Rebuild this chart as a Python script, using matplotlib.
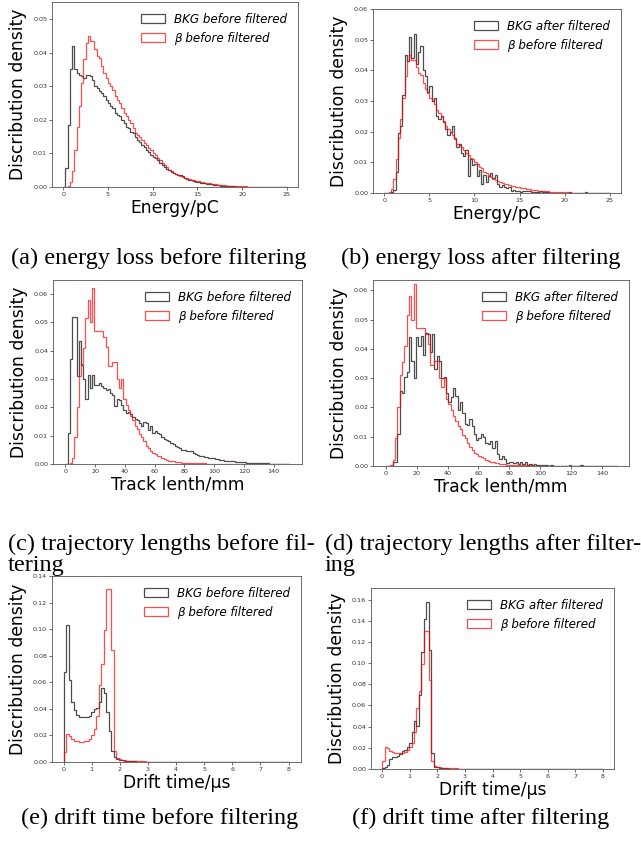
import numpy as np
import matplotlib
matplotlib.use('Agg')
import matplotlib.pyplot as plt

# ---- data: histogram densities ----

# energy loss, 100 bins over 0-25 pC
energy_edges = np.linspace(0, 25, 101)
beta_energy = [
    0.0, 0.0, 0.0003, 0.0014, 0.0047, 0.011, 0.018, 0.024, 0.031, 0.038,
    0.043, 0.045, 0.0435, 0.0435, 0.041, 0.039, 0.0385, 0.036, 0.034, 0.0325,
    0.031, 0.030, 0.029, 0.027, 0.026, 0.025, 0.0235, 0.022, 0.021, 0.020,
    0.019, 0.0175, 0.016, 0.0155, 0.015, 0.014, 0.013, 0.0125, 0.0115, 0.011,
    0.010, 0.0095, 0.0085, 0.008, 0.007, 0.0065, 0.006, 0.0052, 0.0047, 0.0042,
    0.004, 0.0037, 0.0033, 0.003, 0.0028, 0.0026, 0.0024, 0.0022, 0.002, 0.0019,
    0.0017, 0.0016, 0.0015, 0.0013, 0.0012, 0.0011, 0.001, 0.0009, 0.0008, 0.0007,
    0.0006, 0.0006, 0.0005, 0.0004, 0.0004, 0.0003, 0.0003, 0.0003, 0.0002, 0.0002,
    0.0002, 0.0002, 0.0001, 0.0001, 0.0001, 0.0001, 0.0001, 0.0001, 0.0001, 0.0001,
    0.0001, 0.0001, 0.0001, 0.0001, 0.0001, 0.0001, 0.0001, 0.0001, 0.0001, 0.0001]
bkg_energy_before = [
    0.0, 0.0056, 0.0185, 0.035, 0.042, 0.035, 0.034, 0.0335, 0.033, 0.0325,
    0.0335, 0.0335, 0.033, 0.032, 0.030, 0.0295, 0.0285, 0.028, 0.027, 0.026,
    0.025, 0.024, 0.0235, 0.022, 0.0215, 0.021, 0.020, 0.019, 0.018, 0.0175,
    0.0165, 0.016, 0.015, 0.014, 0.0135, 0.0125, 0.012, 0.011, 0.0105, 0.0095,
    0.009, 0.0085, 0.008, 0.0072, 0.0065, 0.006, 0.0055, 0.005, 0.0045, 0.0042,
    0.004, 0.0037, 0.0035, 0.0032, 0.0028, 0.0025, 0.0022, 0.002, 0.0018, 0.0016,
    0.0015, 0.0013, 0.0012, 0.0011, 0.001, 0.0009, 0.0008, 0.0007, 0.0006, 0.0005,
    0.0004, 0.0004, 0.0003, 0.0003, 0.0002, 0.0002, 0.0002, 0.0001, 0.0001, 0.0001,
    0.0001, 0.0001, 0.0001, 0.0001, 0.0001, 0.0, 0.0, 0.0, 0.0, 0.0,
    0.0, 0.0, 0.0, 0.0, 0.0, 0.0, 0.0, 0.0, 0.0, 0.0]
bkg_energy_after = [
    0.0, 0.0, 0.0, 0.0003, 0.001, 0.007, 0.0196, 0.022, 0.032, 0.045,
    0.043, 0.051, 0.044, 0.052, 0.042, 0.046, 0.048, 0.040, 0.038, 0.033,
    0.035, 0.030, 0.031, 0.025, 0.024, 0.025, 0.023, 0.021, 0.019, 0.020,
    0.022, 0.018, 0.015, 0.016, 0.013, 0.012, 0.014, 0.0055, 0.011, 0.009,
    0.0095, 0.0055, 0.0075, 0.003, 0.006, 0.0035, 0.0055, 0.0065, 0.005, 0.006,
    0.003, 0.002, 0.0025, 0.002, 0.0015, 0.002, 0.0005, 0.001, 0.0005, 0.0007,
    0.0004, 0.0007, 0.0008, 0.0005, 0.0007, 0.0004, 0.0003, 0.0003, 0.0002, 0.0005,
    0.0003, 0.0003, 0.0002, 0.0, 0.0, 0.0, 0.0, 0.0, 0.0, 0.0,
    0.0, 0.0, 0.0003, 0.0, 0.0, 0.0, 0.0, 0.0, 0.0, 0.0003,
    0.0, 0.0, 0.0, 0.0, 0.0, 0.0, 0.0, 0.0, 0.0, 0.0]

# track length, 100 bins over 0-150 mm
track_edges = np.linspace(0, 150, 101)
beta_track = [
    0.0, 0.0, 0.0003, 0.002, 0.0097, 0.020, 0.031, 0.0355, 0.041, 0.0515,
    0.058, 0.050, 0.062, 0.047, 0.047, 0.047, 0.047, 0.045, 0.0415, 0.0345,
    0.0345, 0.036, 0.036, 0.030, 0.027, 0.030, 0.023, 0.021, 0.019, 0.017,
    0.0155, 0.0135, 0.0125, 0.0105, 0.0095, 0.008, 0.0065, 0.0055, 0.0045, 0.004,
    0.0035, 0.003, 0.0027, 0.0022, 0.0018, 0.0015, 0.0012, 0.0011, 0.001, 0.0008,
    0.0007, 0.0006, 0.0005, 0.0005, 0.0004, 0.0004, 0.0003, 0.0003, 0.0003, 0.0002,
    0.0002, 0.0002, 0.0002, 0.0001, 0.0001, 0.0001, 0.0001, 0.0001, 0.0001, 0.0001,
    0.0, 0.0, 0.0, 0.0, 0.0, 0.0, 0.0, 0.0, 0.0, 0.0,
    0.0, 0.0, 0.0, 0.0, 0.0, 0.0, 0.0, 0.0, 0.0, 0.0,
    0.0, 0.0, 0.0, 0.0, 0.0, 0.0, 0.0, 0.0, 0.0, 0.0]
bkg_track_before = [
    0.0, 0.011, 0.037, 0.052, 0.052, 0.031, 0.0435, 0.035, 0.030, 0.023,
    0.0315, 0.027, 0.0315, 0.028, 0.028, 0.0285, 0.0275, 0.027, 0.026, 0.0265,
    0.025, 0.0245, 0.0205, 0.023, 0.0225, 0.021, 0.019, 0.018, 0.0185, 0.0175,
    0.0165, 0.016, 0.0155, 0.0145, 0.0135, 0.015, 0.0145, 0.012, 0.0135, 0.011,
    0.0115, 0.011, 0.0105, 0.0095, 0.009, 0.0085, 0.008, 0.0075, 0.007, 0.0065,
    0.006, 0.0055, 0.005, 0.005, 0.0045, 0.0045, 0.0045, 0.004, 0.0035, 0.0033,
    0.003, 0.0028, 0.0026, 0.0024, 0.0022, 0.002, 0.002, 0.0018, 0.0016, 0.0015,
    0.0013, 0.0012, 0.0011, 0.001, 0.001, 0.0009, 0.0008, 0.0008, 0.0007, 0.0006,
    0.0006, 0.0005, 0.0005, 0.0004, 0.0004, 0.0003, 0.0003, 0.0003, 0.0002, 0.0002,
    0.0002, 0.0001, 0.0001, 0.0001, 0.0001, 0.0001, 0.0001, 0.0, 0.0, 0.0]
bkg_track_after = [
    0.0, 0.0, 0.0, 0.0015, 0.0015, 0.011, 0.0255, 0.025, 0.0305, 0.032,
    0.044, 0.036, 0.030, 0.044, 0.041, 0.0445, 0.038, 0.0455, 0.045, 0.039,
    0.045, 0.033, 0.0375, 0.036, 0.030, 0.0305, 0.025, 0.022, 0.0235, 0.0265,
    0.024, 0.019, 0.022, 0.018, 0.0145, 0.014, 0.016, 0.0135, 0.011, 0.009,
    0.0095, 0.011, 0.010, 0.008, 0.0075, 0.0085, 0.006, 0.0085, 0.004, 0.0025,
    0.0035, 0.0025, 0.001, 0.0012, 0.0015, 0.001, 0.0012, 0.0008, 0.0012, 0.0008,
    0.0012, 0.0005, 0.0008, 0.0005, 0.0008, 0.0003, 0.0005, 0.0003, 0.0002, 0.0003,
    0.0001, 0.0005, 0.0, 0.0, 0.0, 0.0, 0.0, 0.0, 0.0, 0.0005,
    0.0, 0.0, 0.0, 0.0, 0.0005, 0.0, 0.0, 0.0, 0.0, 0.0,
    0.0, 0.0, 0.0, 0.0, 0.0, 0.0, 0.0, 0.0, 0.0, 0.0]

# drift time, 90 bins over 0-8 us
drift_edges = np.linspace(0, 8, 91)
beta_drift = [
    0.0075, 0.021, 0.0195, 0.017, 0.016, 0.0155, 0.015, 0.015, 0.0155, 0.016,
    0.0175, 0.0205, 0.025, 0.035, 0.058, 0.074, 0.0995, 0.13, 0.13, 0.0845,
    0.008, 0.003, 0.002, 0.0015, 0.0012, 0.001, 0.0008, 0.0007, 0.0006, 0.0005,
    0.0005, 0.0004, 0.0004, 0.0003, 0.0003, 0.0003, 0.0002, 0.0002, 0.0002, 0.0002,
    0.0002, 0.0002, 0.0002, 0.0002, 0.0002, 0.0002, 0.0002, 0.0002, 0.0002, 0.0002,
    0.0002, 0.0001, 0.0001, 0.0001, 0.0001, 0.0001, 0.0001, 0.0001, 0.0001, 0.0001,
    0.0001, 0.0001, 0.0001, 0.0001, 0.0001, 0.0001, 0.0001, 0.0001, 0.0001, 0.0001,
    0.0001, 0.0001, 0.0001, 0.0001, 0.0001, 0.0001, 0.0001, 0.0001, 0.0001, 0.0001,
    0.0001, 0.0001, 0.0001, 0.0001, 0.0001, 0.0001, 0.0001, 0.0001, 0.0001, 0.0001]
bkg_drift_before = [
    0.068, 0.103, 0.062, 0.0455, 0.039, 0.0355, 0.034, 0.0335, 0.0335, 0.0335,
    0.035, 0.0375, 0.040, 0.041, 0.045, 0.0555, 0.052, 0.038, 0.023, 0.008,
    0.0035, 0.002, 0.0015, 0.0012, 0.001, 0.0008, 0.0006, 0.0005, 0.0004, 0.0003,
    0.0003, 0.0002, 0.0002, 0.0002, 0.0001, 0.0001, 0.0001, 0.0001, 0.0001, 0.0001,
    0.0001, 0.0001, 0.0001, 0.0001, 0.0001, 0.0001, 0.0, 0.0, 0.0, 0.0,
    0.0, 0.0, 0.0, 0.0, 0.0, 0.0, 0.0, 0.0, 0.0, 0.0,
    0.0, 0.0, 0.0, 0.0, 0.0, 0.0, 0.0, 0.0, 0.0, 0.0,
    0.0, 0.0, 0.0, 0.0, 0.0, 0.0, 0.0, 0.0, 0.0, 0.0,
    0.0, 0.0, 0.0, 0.0, 0.0, 0.0, 0.0, 0.0, 0.0, 0.0]
bkg_drift_after = [
    0.0005, 0.002, 0.004, 0.009, 0.011, 0.0115, 0.012, 0.0145, 0.017, 0.018,
    0.021, 0.0245, 0.0345, 0.045, 0.041, 0.070, 0.111, 0.142, 0.158, 0.112,
    0.015, 0.002, 0.0015, 0.001, 0.001, 0.0005, 0.0005, 0.0003, 0.0, 0.0,
    0.0, 0.0, 0.0, 0.0, 0.0, 0.0, 0.0, 0.0, 0.0, 0.0,
    0.0, 0.0, 0.0, 0.0, 0.0, 0.0, 0.0, 0.0, 0.0, 0.0,
    0.0, 0.0, 0.0, 0.0, 0.0, 0.0, 0.0, 0.0, 0.0, 0.0,
    0.0, 0.0, 0.0, 0.0, 0.0, 0.0, 0.0, 0.0, 0.0, 0.0,
    0.0, 0.0, 0.0, 0.0, 0.0, 0.0, 0.0, 0.0, 0.0, 0.0,
    0.0, 0.0, 0.0, 0.0, 0.0, 0.0, 0.0, 0.0, 0.0, 0.0]

captions = [
    ['(a) energy loss before filtering'],
    ['(b) energy loss after filtering'],
    ['(c) trajectory lengths before fil-', 'tering'],
    ['(d) trajectory lengths after filter-', 'ing'],
    ['(e) drift time before filtering'],
    ['(f) drift time after filtering'],
]

W, H = 641, 844


def px_rect(left, top, right, bottom):
    return [left / W, 1 - bottom / H, (right - left) / W, (bottom - top) / H]


def draw_panel(ax, edges, bkg, beta, bkg_label, xlabel, xlim, ylim, xticks, yticks):

    # step histograms from the binned densities
    ax.hist(edges[:-1], bins=edges, weights=bkg, histtype='step',
            color='black', alpha=0.7, lw=0.9, label=bkg_label)
    ax.hist(edges[:-1], bins=edges, weights=beta, histtype='step',
            color='red', alpha=0.7, lw=0.9, label='β before filtered')

    ax.set_xlim(xlim)
    ax.set_ylim(ylim)
    ax.set_xticks(xticks)
    ax.set_yticks(yticks)
    ax.set_yticklabels([f'{v:.2f}' for v in yticks])
    ax.tick_params(labelsize=4.6, length=2, width=0.5, pad=1.5, colors='#333333')
    for sp in ax.spines.values():
        sp.set_color('#555555')
        sp.set_linewidth(0.6)
    ax.set_xlabel(xlabel, fontsize=12.3, labelpad=1.5)
    ax.set_ylabel('Discribution density', fontsize=12.3, labelpad=4)
    ax.legend(loc='upper right', frameon=False,
              prop={'style': 'italic', 'size': 8.6})


fig = plt.figure(figsize=(W / 100, H / 100), dpi=100)

ax = fig.add_axes(px_rect(52, 2, 298, 187))
draw_panel(ax, energy_edges, bkg_energy_before, beta_energy, 'BKG before filtered',
           'Energy/pC', (-1.25, 26.25), (0, 0.0551), range(0, 26, 5),
           np.arange(0, 0.051, 0.01))

ax = fig.add_axes(px_rect(373, 9, 621, 193))
draw_panel(ax, energy_edges, bkg_energy_after, beta_energy, 'BKG after filtered',
           'Energy/pC', (-1.25, 26.25), (0, 0.06), range(0, 26, 5),
           np.arange(0, 0.061, 0.01))

ax = fig.add_axes(px_rect(53, 280, 302, 464))
draw_panel(ax, track_edges, bkg_track_before, beta_track, 'BKG before filtered',
           'Track lenth/mm', (-8.3, 159), (0, 0.065), range(0, 141, 20),
           np.arange(0, 0.061, 0.01))

ax = fig.add_axes(px_rect(373, 280, 629, 466))
draw_panel(ax, track_edges, bkg_track_after, beta_track, 'BKG after filtered',
           'Track lenth/mm', (-8.3, 157.5), (0, 0.0635), range(0, 141, 20),
           np.arange(0, 0.061, 0.01))

ax = fig.add_axes(px_rect(52, 576, 301, 762))
draw_panel(ax, drift_edges, bkg_drift_before, beta_drift, 'BKG before filtered',
           'Drift time/μs', (-0.41, 8.44), (0, 0.14), range(0, 9),
           np.arange(0, 0.141, 0.02))

ax = fig.add_axes(px_rect(371, 588, 614, 769))
draw_panel(ax, drift_edges, bkg_drift_after, beta_drift, 'BKG after filtered',
           'Drift time/μs', (-0.40, 8.40), (0, 0.171), range(0, 9),
           np.arange(0, 0.161, 0.02))

# sub-figure captions
cap_font = dict(family='Liberation Serif', fontsize=17.5, color='black', va='center')
fig.text(159 / W, 1 - 258 / H, captions[0][0], ha='center', **cap_font)
fig.text(481 / W, 1 - 258 / H, captions[1][0], ha='center', **cap_font)
fig.text(8 / W, 1 - 544 / H, captions[2][0], ha='left', **cap_font)
fig.text(8 / W, 1 - 565 / H, captions[2][1], ha='left', **cap_font)
fig.text(325 / W, 1 - 544 / H, captions[3][0], ha='left', **cap_font)
fig.text(325 / W, 1 - 565 / H, captions[3][1], ha='left', **cap_font)
fig.text(160 / W, 1 - 818 / H, captions[4][0], ha='center', **cap_font)
fig.text(481 / W, 1 - 818 / H, captions[5][0], ha='center', **cap_font)

fig.savefig('out.png', dpi=100)
